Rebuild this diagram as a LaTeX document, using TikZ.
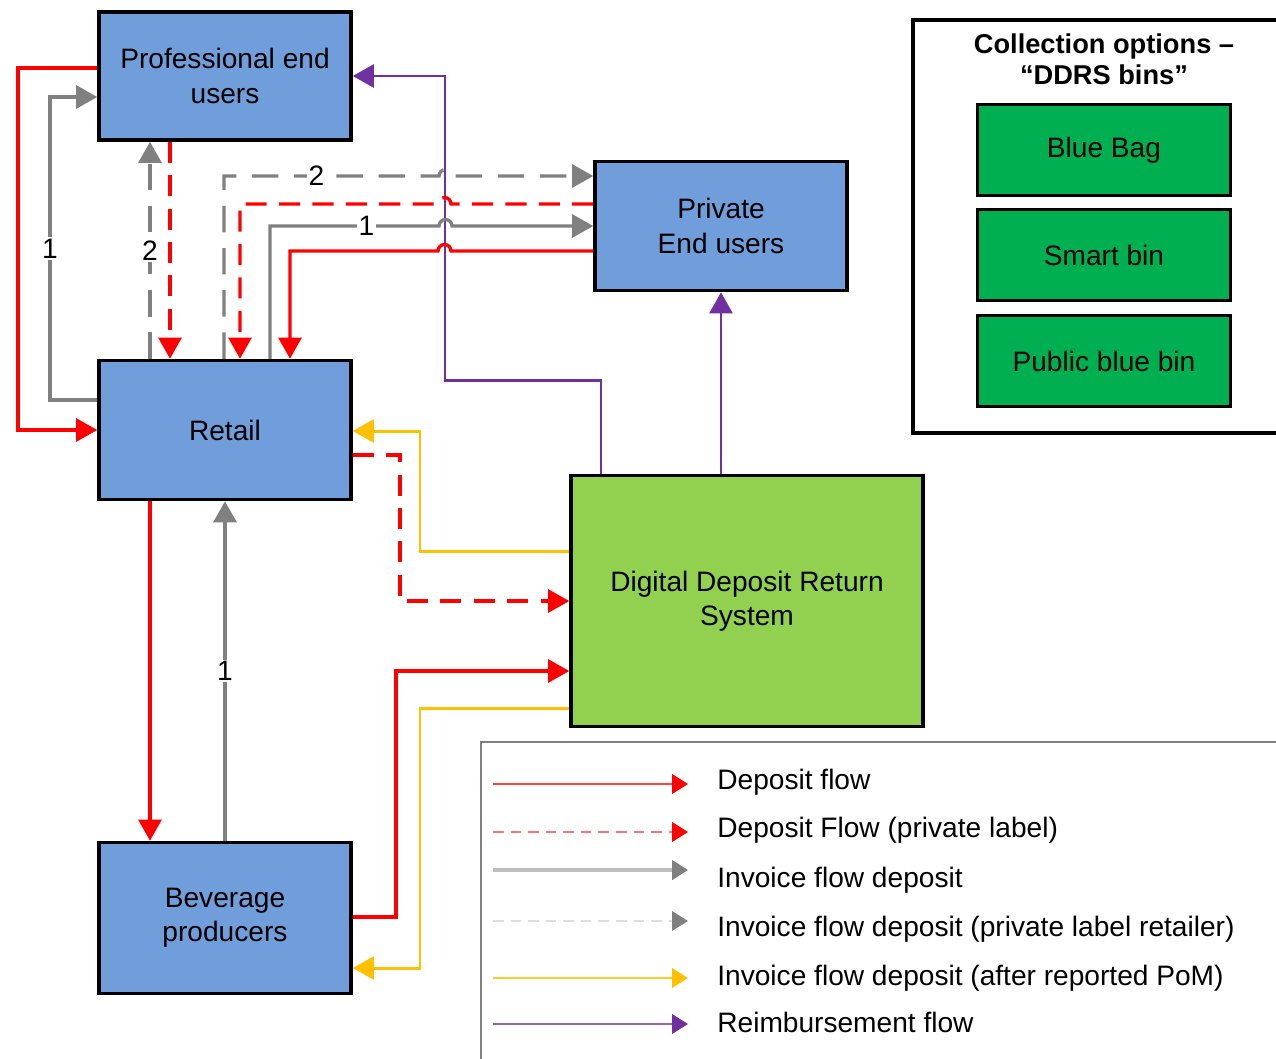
\documentclass[tikz,border=0pt]{standalone}
\usepackage{fontspec}
\setmainfont{Liberation Sans}
\usepackage{xcolor}
\usetikzlibrary{arrows.meta, positioning}

\definecolor{boxblue}{RGB}{112,158,219}
\definecolor{ddrsgreen}{RGB}{146,208,80}
\definecolor{bingreen}{RGB}{0,176,80}
\definecolor{flowred}{RGB}{255,0,0}
\definecolor{flowgray}{RGB}{128,128,128}
\definecolor{flowyellow}{RGB}{255,192,0}
\definecolor{flowpurple}{RGB}{112,48,160}

\begin{document}
\begin{tikzpicture}[x=0.02cm, y=-0.02cm,
  every node/.append style={font=\fontsize{16}{19.5}\selectfont},
  blk/.style={draw, line width=2pt, fill=boxblue, align=center, inner sep=2pt,
              minimum width=5.04cm},
  ddrs/.style={draw, line width=2pt, fill=ddrsgreen, align=center, inner sep=2pt,
               minimum width=7.04cm, minimum height=5.02cm},
  bin/.style={draw, line width=2pt, fill=bingreen, inner sep=2pt,
              minimum width=5.06cm, minimum height=1.82cm},
  tip/.style={-{Triangle[length=12pt, width=13pt]}},
  dep/.style={tip, flowred, line width=1.9pt},
  depd/.style={dep, dash pattern=on 12pt off 7pt},
  inv/.style={tip, flowgray, line width=1.9pt},
  invd/.style={inv, dash pattern=on 15pt off 9pt},
  pom/.style={tip, flowyellow, line width=1.7pt},
  reimb/.style={tip, flowpurple, line width=1.7pt},
  num/.style={fill=white, text=black, inner sep=1pt},
  hop/.style={radius=0.13cm},
]
\useasboundingbox (0,0) rectangle (1276,1059);
% Actors
\node[blk, minimum height=2.56cm] at (225,76)  (prof)   {Professional end\\users};
\node[blk, minimum height=2.78cm] at (225,430) (retail) {Retail};
\node[blk, minimum height=3.02cm] at (225,918) (bev)    {Beverage\\producers};
\node[blk, minimum height=2.58cm] at (721,226) (priv)   {Private\\End users};
\node[ddrs] at (747,601) (sys) {Digital Deposit Return\\System};
% Collection options
\draw[line width=2pt] (913,20) rectangle (1300,433);
\node[font=\fontsize{15.5}{17.5}\selectfont\bfseries, align=center] at (1104,59) (colltitle)
     {Collection options --\\“DDRS bins”};
\node[bin] at (1104,150) (bag)   {Blue Bag};
\node[bin] at (1104,255) (smart) {Smart bin};
\node[bin] at (1104,361) (pub)   {Public blue bin};
% Reimbursement (under the hops)
\draw[reimb] (sys.north -| 601,0) -- (601,380) -- (445,380) |- (prof.east);
\draw[reimb] (sys.north -| 721,0) -- (priv.south);
% Deposit flow
\draw[dep] (prof.west |- 0,68) -- (18,68) |- (retail.west);
\draw[dep] (priv.west |- 0,251) -- (451,251) arc[start angle=0, end angle=180, hop]
           -- (290,251) -- (retail.north -| 290,0);
\draw[dep] (retail.south -| 150,0) -- (bev.north -| 150,0);
\draw[dep] (bev.east |- 0,917) -- (396,917) |- (sys.west |- 0,671);
% Deposit flow, private label
\draw[depd] (prof.south -| 170,0) -- (retail.north -| 170,0);
\draw[depd] (priv.west |- 0,204) -- (451,204) arc[start angle=0, end angle=180, hop]
            -- (240,204) -- (retail.north -| 240,0);
\draw[depd] (retail.east |- 0,455) -- (400,455) |- (sys.west);
% Invoice flow
\draw[inv] (retail.west |- 0,400) -- (50,400) |- (prof.west |- 0,97)
           node[num, pos=0.25] {1};
\draw[inv] (retail.north -| 270,0) -- (270,226) -- (439,226) node[num, pos=0.57] {1}
           arc[start angle=180, end angle=0, hop] -- (priv.west |- 0,226);
\draw[inv] (bev.north) -- (retail.south) node[num, midway] {1};
% Invoice flow, private label
\draw[invd] (retail.north -| 150,0) -- (prof.south -| 150,0) node[num, midway] {2};
\draw[invd] (retail.north -| 224,0) -- (224,176) -- (439,176) node[num, pos=0.43] {2}
            arc[start angle=180, end angle=0, hop] -- (priv.west |- 0,176);
% Invoice flow after reported PoM
\draw[pom] (sys.west |- 0,551) -- (420,551) |- (retail.east |- 0,431);
\draw[pom] (sys.west |- 0,708) -- (420,708) |- (bev.east |- 0,968);
% Legend
\draw[gray, line width=1pt] (481,742) rectangle (1300,1080);
\tikzset{
  lgdep/.style={-{Triangle[length=9pt, width=11pt, color=flowred]}, flowred!75, line width=1.3pt},
  lgdepd/.style={lgdep, flowred!55, dash pattern=on 6pt off 4pt},
  lginv/.style={-{Triangle[length=9pt, width=11pt, color=flowgray]}, gray!50, line width=1.8pt},
  lginvd/.style={lginv, gray!25, line width=1pt, dash pattern=on 6pt off 4pt},
  lgpom/.style={-{Triangle[length=9pt, width=11pt, color=flowyellow]}, flowyellow!85, line width=1.3pt},
  lgreimb/.style={-{Triangle[length=9pt, width=11pt, color=flowpurple]}, flowpurple!75, line width=1.3pt},
}
\foreach \i/\ly/\ty/\sty/\txt in {
    1/784/782/lgdep/Deposit flow,
    2/832/830/lgdepd/Deposit Flow (private label),
    3/870/880/lginv/Invoice flow deposit,
    4/921/929/lginvd/Invoice flow deposit (private label retailer),
    5/978/978/lgpom/Invoice flow deposit (after reported PoM),
    6/1024/1022/lgreimb/Reimbursement flow} {
  \node[anchor=west, inner sep=0pt] at (717,\ty) (lg\i) {\txt};
  \coordinate (ls\i) at (493,\ly);
  \coordinate (le\i) at (688,\ly);
  \draw[\sty] (ls\i) -- (le\i);
}
\end{tikzpicture}
\end{document}
